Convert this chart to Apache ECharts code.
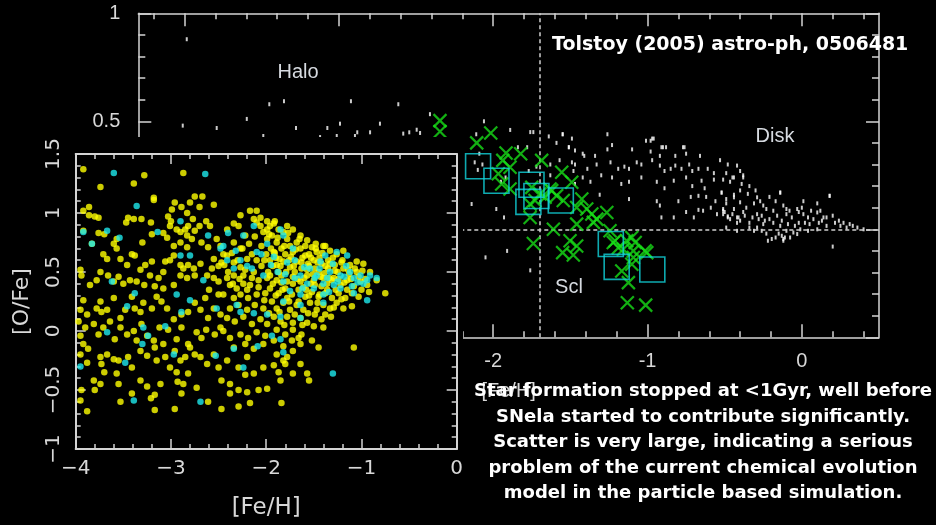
<!DOCTYPE html>
<html>
<head>
<meta charset="utf-8">
<script src="https://cdn.jsdelivr.net/npm/echarts@6/dist/echarts.min.js"></script>
<style>
html,body{margin:0;padding:0;background:#000;}
#chart{width:936px;height:525px;}
</style>
</head>
<body>
<div id="chart"></div>
<script>
// ---- Observed stars: Milky Way halo + disk field stars, [Fe/H] vs [O/Fe] ----
const milkyWayStars = [
  [-3.986,0.88],[-3.451,0.579],[-3.356,0.593],[-2.922,0.593],[-2.615,0.579],[-3.597,0.511],
  [-4.012,0.48],[-3.792,0.469],[-3.278,0.469],[-3.075,0.469],[-2.993,0.489],[-2.734,0.489],
  [-3.49,0.432],[-3.014,0.432],[-2.896,0.432],[-2.881,0.449],[-2.798,0.449],[-2.583,0.443],
  [-2.544,0.449],[-2.496,0.461],[-2.474,0.446],[-2.41,0.533],[-3.122,0.427],
  [-2.06,0.50],[-1.89,0.46],[-2.11,0.44],[-1.76,0.45],[-1.74,0.45],[-1.64,0.43],[-1.55,0.44],
  [-1.59,0.40],[-1.51,0.38],[-1.78,0.38],[-1.84,0.38],[-2.09,0.35],[-2.12,0.31],[-2.07,0.30],
  [-2.10,0.275],[-1.77,0.27],[-1.72,0.29],[-1.63,0.30],[-1.57,0.32],[-1.92,0.24],[-1.95,0.22],
  [-1.63,0.25],[-2.14,0.117],[-1.98,0.094],[-1.48,0.27],[-1.42,0.35],[-2.05,-0.13],[-1.91,-0.10],
  [-1.76,-0.19],[-1.93,0.055],[-1.26,0.44],[-0.96,0.42],
  [-1.55,0.44],[-1.49,0.42],[-1.51,0.38],[-1.47,0.365],[-1.41,0.34],[-1.34,0.34],[-1.26,0.37],
  [-1.23,0.39],[-1.10,0.37],[-1.01,0.41],[-0.97,0.42],[-0.91,0.38],[-0.88,0.38],[-0.76,0.38],
  [-0.98,0.36],[-0.92,0.34],[-0.82,0.34],[-0.75,0.35],[-0.66,0.34],[-1.49,0.31],[-1.47,0.30],
  [-1.39,0.28],[-1.33,0.30],[-1.24,0.31],[-1.19,0.28],[-1.15,0.29],[-1.12,0.28],[-1.07,0.31],
  [-1.04,0.30],[-0.97,0.32],[-0.92,0.295],[-0.89,0.27],[-0.85,0.28],[-0.82,0.295],[-0.78,0.28],
  [-0.73,0.30],[-0.71,0.27],[-0.67,0.28],[-0.61,0.28],[-0.57,0.26],[-0.53,0.32],[-0.48,0.30],
  [-0.45,0.24],[-1.42,0.24],[-1.37,0.22],[-1.30,0.25],[-1.23,0.24],[-1.17,0.21],[-1.12,0.22],
  [-1.04,0.24],[-0.94,0.22],[-0.89,0.19],[-0.83,0.225],[-0.75,0.24],[-0.71,0.20],[-0.65,0.225],
  [-0.63,0.19],[-0.57,0.23],[-0.51,0.23],[-0.465,0.22],[-1.31,0.16],[-1.12,0.14],[-0.94,0.13],
  [-0.92,0.11],[-0.80,0.13],[-0.72,0.15],[-0.67,0.155],[-0.62,0.15],[-0.56,0.13],[-0.52,0.17],
  [-0.49,0.14],[-0.44,0.16],[-0.67,0.09],[-0.64,0.086],[-0.59,0.10],[-0.55,0.07],[-0.51,0.086],
  [-0.48,0.055],[-0.42,0.055],[-0.75,0.08],[-0.83,0.055],[-0.91,0.055],[-0.70,0.055],[-1.47,0.21],
  [-0.42,0.295],[-0.40,0.27],[-0.49,0.26],[-0.44,0.24],[-0.38,0.25],[-0.52,0.17],[-0.39,0.21],
  [-0.34,0.20],[-0.30,0.18],[-0.49,0.12],[-0.44,0.094],[-0.40,0.125],[-0.38,0.08],[-0.36,0.10],
  [-0.31,0.12],[-0.29,0.07],[-0.27,0.13],[-0.23,0.094],[-0.21,0.15],[-0.17,0.13],[-0.14,0.17],
  [-0.12,0.11],[-0.10,0.07],[-0.08,0.086],[-0.03,0.094],[0.01,0.07],[0.0,0.10],[0.04,0.055],
  [0.10,0.12],[0.12,0.086],[0.14,0.055],[0.18,0.155],[0.20,0.063],[0.24,0.04],[0.27,0.03],
  [0.31,0.024],[0.36,0.008],[0.40,0.0],[-0.49,0.008],[-0.42,-0.007],[-0.31,-0.007],[-0.23,-0.02],
  [-0.195,-0.045],[-0.15,-0.02],[-0.11,-0.038],[-0.055,-0.015],[-0.01,0.0],[0.04,-0.007],[0.10,0.0],
  [-0.22,-0.053],[-0.12,-0.053],[0.20,-0.08],[-0.51,0.07],[-0.465,0.047],[-0.40,0.04],[-0.34,0.03],
  [-0.28,0.047],[-0.25,0.024],[-0.185,0.03],[-0.14,0.016],[-0.09,0.024],[-0.02,0.03],[0.05,0.024],
  [0.11,0.03],[0.16,0.016],[0.01,0.13],[-0.02,0.08],[0.06,0.086],
  [-0.50,0.08],[-0.48,0.06],[-0.45,0.07],[-0.41,0.055],[-0.37,0.063],[-0.32,0.055],[-0.26,0.063],
  [-0.24,0.04],[-0.21,0.047],[-0.16,0.063],[-0.13,0.04],[-0.065,0.055],[-0.045,0.016],[0.02,0.03],
  [0.075,0.047],[0.13,0.04],[0.16,0.055],[0.215,0.03],[0.25,0.016],[0.29,0.008],[0.33,0.016],
  [-0.29,0.008],[-0.26,-0.007],[-0.10,-0.007],[-0.13,-0.03],[-0.076,-0.038],[-0.03,-0.022],
  [-0.40,0.18],[-0.44,0.148],[-0.35,0.164],[-0.29,0.148],[-0.25,0.11],[-0.185,0.086],[-0.51,0.094],
  [-0.10,0.094],[0.10,0.078],[-0.42,0.03],[-0.34,0.008],[-0.17,-0.038],[-0.12,-0.045],
  [-0.98,0.41],[-0.90,0.38],[-0.77,0.38],[-0.38,0.24],[-0.14,0.17],[0.18,0.155]
];

// ---- Observed stars: Sculptor dwarf spheroidal ----
const sculptorStars = [
  [-2.345,0.503],[-2.345,0.453],[-2.016,0.446],[-2.107,0.40],[-1.917,0.353],[-1.822,0.35],
  [-1.938,0.319],[-1.686,0.319],[-1.891,0.287],[-1.967,0.257],[-1.556,0.264],[-1.491,0.218],
  [-1.945,0.21],[-1.891,0.187],[-1.75,0.194],[-1.621,0.179],[-1.697,0.164],[-1.546,0.133],
  [-1.426,0.14],[-1.459,0.101],[-1.761,0.117],[-1.761,0.055],[-1.459,0.024],[-1.61,0.0],
  [-1.74,-0.066],[-1.502,-0.053],[-1.459,-0.077],[-1.55,-0.108],[-1.481,-0.119],[-1.394,0.094],
  [-1.361,0.071],[-1.329,0.047],[-1.264,0.078],[-1.243,-0.007],[-1.211,-0.053],[-1.157,-0.092],
  [-1.102,-0.038],[-1.092,-0.1],[-1.102,-0.162],[-1.167,-0.193],[-1.124,-0.247],[-1.005,-0.108],
  [-1.131,-0.34],[-1.012,-0.351],[-1.08,-0.061],[-1.092,-0.131],[-1.016,-0.1],[-1.351,0.032],
  [-1.222,-0.061],[-1.135,-0.053],[-1.189,-0.085],[-1.632,0.187],[-1.589,0.156],[-1.729,0.133],
  [-1.664,0.148]
];

// ---- Sculptor binned means ----
const sculptorBins = [
  [-2.098,0.292],[-1.979,0.225],[-1.752,0.206],[-1.72,0.154],[-1.772,0.127],
  [-1.562,0.133],[-1.238,-0.068],[-1.2,-0.174],[-0.969,-0.186]
];

// Reference lines of the observed panel
const sclMeanFeH = -1.7;
const solarOFe = 0;

// ---- Simulated star particles (inset) ----
const simStarsMain = [
  [-3.92,1.37],[-3.28,1.32],[-2.87,1.34],[-3.39,1.25],[-3.74,1.22],[-3.18,1.13],[-3.18,1.11],
  [-2.96,1.09],[-2.89,1.05],[-2.80,1.09],[-2.75,1.14],[-2.67,1.14],[-2.55,1.07],[-2.70,1.05],
  [-2.99,1.03],[-2.83,1.00],[-3.92,1.02],[-3.86,1.05],[-3.86,0.98],[-3.80,0.97],[-3.76,0.96],
  [-3.45,0.96],[-3.39,0.95],[-3.31,0.95],[-3.47,0.92],[-3.21,0.92],[-3.03,0.97],[-3.00,0.93],
  [-2.77,0.95],[-2.63,0.93],[-2.59,0.89],[-2.70,0.89],[-3.92,0.85],[-3.76,0.83],[-3.70,0.82],
  [-3.83,0.74],[-3.57,0.78],[-3.60,0.74],[-3.57,0.70],[-3.30,0.75],[-3.20,0.82],[-3.08,0.83],
  [-3.01,0.89],[-2.94,0.86],[-2.90,0.84],[-2.85,0.86],[-2.83,0.81],[-2.78,0.78],[-2.82,0.89],
  [-2.75,0.85],[-3.04,0.79],[-2.97,0.72],[-2.90,0.75],[-2.83,0.71],[-2.97,0.64],[-2.68,0.75],
  [-2.61,0.71],[-3.71,0.65],[-3.67,0.61],[-3.53,0.61],[-3.41,0.65],[-3.38,0.64],[-3.46,0.56],
  [-3.27,0.56],[-3.20,0.59],[-3.32,0.52],[-3.22,0.47],[-3.13,0.45],[-3.08,0.50],[-3.06,0.59],
  [-3.01,0.60],[-2.90,0.56],[-2.87,0.53],[-2.82,0.56],[-2.76,0.53],[-2.69,0.57],[-2.75,0.47],
  [-2.83,0.45],[-2.90,0.47],[-2.62,0.47],[-2.57,0.53],[-2.50,0.42],[-2.55,0.61],[-3.95,0.52],
  [-3.94,0.47],[-3.85,0.39],[-3.78,0.43],[-3.74,0.50],[-3.66,0.47],[-3.60,0.42],[-3.55,0.46],
  [-3.50,0.40],[-3.43,0.43],[-3.36,0.42],[-3.28,0.39],[-3.17,0.38],[-3.08,0.36],[-2.97,0.39],
  [-3.92,0.26],[-3.95,0.18],[-3.88,0.14],[-3.78,0.19],[-3.74,0.25],[-3.67,0.18],[-3.73,0.16],
  [-3.60,0.28],[-3.53,0.11],[-3.48,0.18],[-3.41,0.29],[-3.38,0.19],[-3.32,0.16],[-3.29,0.24],
  [-3.20,0.19],[-3.15,0.29],[-3.10,0.25],[-3.04,0.19],[-2.97,0.10],[-2.89,0.14],[-2.82,0.16],
  [-2.75,0.24],[-2.69,0.18],[-2.64,0.28],[-2.61,0.11],[-2.55,0.19],[-2.50,0.31],[-2.48,0.14],
  [-3.97,0.08],[-3.90,0.03],[-3.95,-0.04],[-3.81,0.06],[-3.76,-0.03],[-3.71,0.03],[-3.64,0.08],
  [-3.59,-0.07],[-3.53,0.03],[-3.46,-0.03],[-3.39,0.00],[-3.36,-0.08],[-3.31,0.06],[-3.25,-0.04],
  [-3.18,-0.08],[-3.12,0.03],[-3.08,-0.11],[-3.03,0.01],[-2.94,-0.07],[-2.89,0.03],[-2.82,-0.11],
  [-2.73,-0.01],[-2.68,-0.06],[-2.63,0.01],[-2.54,-0.03],[-2.48,0.03],[-3.92,-0.11],[-3.95,-0.20],
  [-3.87,-0.15],[-3.74,-0.22],[-3.67,-0.20],[-3.60,-0.24],[-3.55,-0.25],[-3.73,-0.28],[-3.88,-0.27],
  [-3.70,-0.35],[-3.57,-0.36],[-3.41,-0.31],[-3.45,-0.22],[-3.32,-0.17],[-3.25,-0.21],[-3.17,-0.14],
  [-3.15,-0.25],[-3.06,-0.22],[-3.01,-0.31],[-2.96,-0.17],[-2.90,-0.25],[-2.85,-0.22],[-2.80,-0.14],
  [-2.75,-0.20],[-2.69,-0.22],[-2.62,-0.28],[-2.55,-0.20],[-2.50,-0.31],[-2.94,-0.35],[-2.82,-0.36],
  [-3.80,-0.50],[-3.81,-0.42],[-3.74,-0.45],[-3.94,-0.50],[-3.95,-0.59],[-3.88,-0.68],[-3.55,-0.45],
  [-3.53,-0.60],[-3.41,-0.53],[-3.32,-0.42],[-3.25,-0.47],[-3.21,-0.57],[-3.17,-0.54],[-3.17,-0.67],
  [-3.11,-0.45],[-2.96,-0.66],[-2.93,-0.43],[-2.87,-0.45],[-2.73,-0.48],[-2.61,-0.60],[-2.89,-0.53],
  [-2.52,0.78],[-2.48,0.72],[-2.41,0.86],[-2.34,0.91],[-2.29,0.89],[-2.22,0.81],[-2.17,1.02],
  [-2.10,1.02],[-2.13,0.95],[-2.34,0.75],[-2.27,0.70],[-2.41,0.64],[-2.47,0.58],[-2.34,0.58],
  [-2.27,0.54],[-2.20,0.61],[-2.15,0.65],[-2.06,0.89],[-2.03,0.84],[-1.99,0.78],[-1.96,0.89],
  [-2.41,0.45],[-2.34,0.47],[-2.24,0.47],[-2.13,0.50],[-2.38,0.39],[-2.31,0.36],[-2.24,0.40],
  [-2.17,0.39],[-2.08,0.43],[-1.99,0.45],[-2.45,0.31],[-2.34,0.28],[-2.27,0.31],[-2.19,0.28],
  [-2.10,0.31],[-2.01,0.32],[-2.38,0.19],[-2.29,0.22],[-2.20,0.18],[-2.12,0.22],[-2.03,0.19],
  [-2.41,0.11],[-2.33,0.08],[-2.24,0.12],[-2.15,0.06],[-2.06,0.10],[-1.99,0.06],[-2.45,0.00],
  [-2.38,-0.06],[-2.27,-0.03],[-2.19,-0.06],[-2.10,-0.01],[-2.01,-0.04],[-2.34,-0.14],[-2.22,-0.11],
  [-2.13,-0.15],[-2.03,-0.11],[-2.41,-0.25],[-2.29,-0.31],[-2.20,-0.22],[-2.13,-0.36],[-2.03,-0.31],
  [-2.22,-0.37],[-2.47,-0.42],[-2.38,-0.45],[-2.38,-0.53],[-2.29,-0.50],[-2.20,-0.52],[-2.47,-0.66],
  [-2.29,-0.64],[-2.17,-0.61],[-2.08,-0.50],[-1.99,-0.49],
  [-2.06,0.96],[-1.99,0.93],[-1.92,0.91],[-1.87,0.86],[-1.82,0.84],[-1.94,0.81],[-1.89,0.75],
  [-1.78,0.78],[-1.75,0.72],[-1.84,0.70],[-1.92,0.67],[-1.72,0.67],[-1.64,0.70],[-1.59,0.64],
  [-1.52,0.71],[-1.47,0.67],[-1.40,0.72],[-1.33,0.68],[-1.26,0.65],[-1.19,0.68],[-1.96,0.60],
  [-1.89,0.56],[-1.82,0.59],[-1.75,0.54],[-1.68,0.59],[-1.63,0.53],[-1.56,0.57],[-1.49,0.53],
  [-1.42,0.57],[-1.35,0.53],[-1.28,0.56],[-1.19,0.53],[-1.12,0.56],[-1.05,0.59],[-0.98,0.57],
  [-0.91,0.50],[-0.84,0.43],[-0.75,0.32],[-1.96,0.47],[-1.89,0.43],[-1.84,0.47],[-1.78,0.42],
  [-1.72,0.46],[-1.64,0.42],[-1.57,0.47],[-1.50,0.43],[-1.43,0.46],[-1.36,0.40],[-1.29,0.45],
  [-1.22,0.39],[-1.15,0.43],[-1.08,0.38],[-1.01,0.42],[-0.94,0.39],[-0.92,0.33],[-1.96,0.36],
  [-1.87,0.32],[-1.80,0.36],[-1.73,0.31],[-1.66,0.35],[-1.59,0.29],[-1.52,0.33],[-1.45,0.29],
  [-1.38,0.32],[-1.31,0.28],[-1.24,0.32],[-1.17,0.28],[-1.10,0.32],[-1.03,0.29],[-1.19,0.19],
  [-1.10,0.21],[-1.94,0.25],[-1.89,0.19],[-1.82,0.24],[-1.75,0.18],[-1.68,0.22],[-1.61,0.18],
  [-1.54,0.24],[-1.47,0.18],[-1.40,0.22],[-1.33,0.19],[-1.26,0.24],[-1.92,0.12],[-1.85,0.08],
  [-1.78,0.12],[-1.72,0.07],[-1.64,0.11],[-1.57,0.07],[-1.49,0.14],[-1.42,0.10],[-1.32,0.12],
  [-1.89,0.01],[-1.80,-0.03],[-1.72,0.01],[-1.63,-0.03],[-1.50,0.04],[-1.40,0.03],[-1.92,-0.08],
  [-1.82,-0.13],[-1.73,-0.08],[-1.66,-0.06],[-1.89,-0.20],[-1.78,-0.22],[-1.72,-0.17],[-1.64,-0.11],
  [-1.52,-0.08],[-1.45,-0.14],[-1.92,-0.29],[-1.82,-0.25],[-1.87,-0.35],[-1.80,-0.28],[-1.72,-0.36],
  [-1.64,-0.28],[-1.57,-0.36],[-1.55,-0.42],[-1.85,-0.42],[-1.84,-0.61],[-1.08,-0.14],
  [-2.27,0.98],[-2.10,0.92],[-1.99,0.86],[-1.91,0.93],[-1.78,0.89],[-1.72,0.86],[-1.64,0.81],
  [-1.57,0.77],[-1.48,0.74],[-1.38,0.72],
  [-1.95,0.70],[-1.90,0.62],[-1.85,0.55],[-1.80,0.65],[-1.76,0.60],[-1.70,0.50],[-1.68,0.75],
  [-1.62,0.62],[-1.60,0.45],[-1.55,0.65],[-1.53,0.40],[-1.50,0.60],[-1.45,0.50],[-1.42,0.38],
  [-1.38,0.55],[-1.34,0.45],[-1.30,0.62],[-1.27,0.35],[-1.25,0.50],[-1.20,0.60],[-2.05,0.55],
  [-2.10,0.60],[-2.00,0.65],[-1.98,0.50],[-1.93,0.40],[-1.87,0.50],[-1.83,0.35],[-1.78,0.28],
  [-1.72,0.40],[-1.66,0.25],[-1.58,0.35],[-1.55,0.55],[-1.48,0.70],[-1.44,0.62],[-1.40,0.45],
  [-1.35,0.60],[-1.15,0.35],[-1.13,0.48],[-1.05,0.50],[-1.00,0.35],[-2.15,0.45],[-2.20,0.35],
  [-2.25,0.70],[-2.30,0.60],[-2.35,0.40],[-2.40,0.50],[-2.45,0.65],[-2.50,0.55],[-2.55,0.45],
  [-2.60,0.35],
  [-2.18,0.74],[-2.12,0.80],[-2.05,0.72],[-2.02,0.60],[-1.97,0.82],[-1.93,0.55],[-1.91,0.66],
  [-1.88,0.79],[-1.86,0.61],[-1.84,0.41],[-1.81,0.72],[-1.79,0.50],[-1.77,0.83],[-1.74,0.63],
  [-1.71,0.55],[-1.69,0.69],[-1.67,0.44],[-1.65,0.78],[-1.63,0.58],[-1.61,0.37],[-1.59,0.72],
  [-1.57,0.52],[-1.55,0.30],[-1.53,0.62],[-1.51,0.48],[-1.49,0.39],[-1.46,0.58],[-1.44,0.31],
  [-1.41,0.66],[-1.39,0.49],[-1.36,0.35],[-1.33,0.57],[-1.31,0.43],[-1.28,0.51],[-1.24,0.44],
  [-1.21,0.58],[-1.18,0.41],[-1.14,0.52],[-1.11,0.44],[-1.07,0.53],[-1.03,0.46],[-0.99,0.51],
  [-0.96,0.44],[-2.08,0.37],[-2.02,0.26],[-1.97,0.15],[-1.90,0.30],[-1.86,0.16],[-1.81,0.05],
  [-1.76,0.25],[-1.70,0.14],[-1.62,0.05],[-1.56,0.15],[-1.46,0.24],[-1.38,0.14],[-1.29,0.20],
  [-1.21,0.27],[-2.22,0.52],[-2.28,0.44],[-2.36,0.66],[-2.44,0.56]
];

const simStarsSub = [
  [-3.60,1.34],[-2.64,1.33],[-3.36,1.06],[-3.92,0.84],[-3.83,0.74],[-3.67,0.85],[-3.54,0.79],
  [-2.90,0.93],[-3.14,0.84],[-2.61,0.81],[-3.62,0.42],[-3.38,0.32],[-3.46,0.21],[-3.29,0.03],
  [-3.24,-0.04],[-3.67,-0.01],[-3.30,-0.11],[-3.06,0.04],[-2.94,0.31],[-2.97,-0.20],[-2.80,0.26],
  [-2.66,0.43],[-2.89,0.16],[-3.48,-0.27],[-3.95,-0.30],[-3.39,-0.59],[-2.69,-0.60],[-2.53,-0.21],
  [-2.34,-0.15],[-2.24,-0.31],[-2.09,-0.13],[-1.85,-0.07],[-1.82,-0.18],[-1.30,-0.36],[-2.90,0.64],
  [-2.80,0.64],[-2.45,0.72],[-2.40,0.83],[-2.24,0.81],[-2.13,0.89],[-1.85,0.86],[-1.82,0.81],
  [-1.72,0.70],[-1.99,0.74],[-2.10,0.67],[-2.27,0.60],[-2.41,0.60],[-2.34,0.53],[-2.15,0.53],
  [-2.03,0.47],[-1.82,0.42],[-1.64,0.47],[-1.54,0.53],[-1.43,0.59],[-1.38,0.64],[-1.26,0.67],
  [-1.15,0.64],[-1.47,0.47],[-1.36,0.45],[-1.29,0.39],[-1.22,0.47],[-1.12,0.50],[-1.08,0.45],
  [-1.01,0.47],[-0.94,0.43],[-0.91,0.47],[-0.84,0.45],[-0.94,0.26],[-1.08,0.32],[-1.22,0.36],
  [-1.40,0.31],[-1.50,0.36],[-1.64,0.31],[-1.75,0.34],[-1.82,0.25],[-1.64,0.22],[-1.40,0.24],
  [-2.31,0.22],[-2.27,0.16],[-2.13,0.15],[-1.99,0.14],[-1.85,0.12],[-1.64,0.11],[-2.52,0.19],
  [-2.48,0.70],[-1.94,-0.04],
  [-1.95,0.56],[-1.88,0.50],[-1.78,0.58],[-1.70,0.45],[-1.60,0.54],[-1.57,0.40],[-1.49,0.45],
  [-1.44,0.53],[-1.40,0.40],[-1.33,0.50],[-1.30,0.57],[-1.25,0.42],[-1.18,0.46],[-1.16,0.55],
  [-1.10,0.38],[-1.04,0.41],[-0.98,0.40],[-1.70,0.60],[-1.80,0.48],[-1.92,0.63],[-2.05,0.65],
  [-2.20,0.55],[-2.32,0.68],[-1.62,0.36],[-1.34,0.33]
];

// ---- Tick positions ----
const obsFeHMajor = [-4, -3, -2, -1, 0];
const obsFeHLabels = [-2, -1, 0];
const obsFeHMinor = [-4.2,-3.8,-3.6,-3.4,-3.2,-2.8,-2.6,-2.4,-2.2,-1.8,-1.6,-1.4,-1.2,-0.8,-0.6,-0.4,-0.2,0.2,0.4];
const obsOFeMajor = [-0.5, 0, 0.5, 1];
const obsOFeLabels = [0.5, 1];
const obsOFeMinor = [-0.4,-0.3,-0.2,-0.1,0.1,0.2,0.3,0.4,0.6,0.7,0.8,0.9];

const AX = '#d4d4d4';
const LBL = '#d8d8d8';
const minusFmt = v => (v < 0 ? '\u2212' : '') + Math.abs(v);

// Observed-panel axes (one axis for long ticks, one for short ticks on every side)
function obsX(pos, major, labelled) {
  return {
    gridIndex: 0, type: 'value', position: pos, min: -4.3, max: 0.5,
    axisLine: { show: major, onZero: false, lineStyle: { color: AX, width: 1.5 } },
    axisTick: { show: true, inside: true, length: major ? 13 : 6,
      customValues: major ? obsFeHMajor : obsFeHMinor, lineStyle: { color: AX, width: 1.5 } },
    axisLabel: { show: labelled, customValues: obsFeHLabels, color: LBL, fontSize: 20,
      fontFamily: 'Liberation Sans', margin: 14 },
    splitLine: { show: false },
    name: labelled ? '[Fe/H]' : '', nameLocation: 'middle', nameGap: 44,
    nameTextStyle: { color: LBL, fontSize: 20, fontFamily: 'Liberation Sans' }
  };
}
function obsY(pos, major, labelled) {
  return {
    gridIndex: 0, type: 'value', position: pos, min: -0.5, max: 1.0,
    axisLine: { show: major, onZero: false, lineStyle: { color: AX, width: 1.5 } },
    axisTick: { show: true, inside: true, length: major ? 13 : 7,
      customValues: major ? obsOFeMajor : obsOFeMinor, lineStyle: { color: AX, width: 1.5 } },
    axisLabel: { show: labelled, customValues: obsOFeLabels, color: LBL, fontSize: 20,
      fontFamily: 'Liberation Sans', margin: 18 },
    splitLine: { show: false }
  };
}
// Simulation inset axes
function simX(pos, labelled) {
  return {
    gridIndex: 1, type: 'value', position: pos, min: -4, max: 0, interval: 1, z: 7,
    axisLine: { onZero: false, lineStyle: { color: AX, width: 2 } },
    axisTick: { inside: true, length: 10, lineStyle: { color: AX, width: 1.5 } },
    minorTick: { show: true, splitNumber: 5, length: 5, lineStyle: { color: AX, width: 1.5 } },
    axisLabel: { show: labelled, color: LBL, fontSize: 20, fontFamily: 'DejaVu Sans',
      margin: 10, formatter: minusFmt },
    splitLine: { show: false },
    name: labelled ? '[Fe/H]' : '', nameLocation: 'middle', nameGap: 48,
    nameTextStyle: { color: LBL, fontSize: 23, fontFamily: 'DejaVu Sans' }
  };
}
function simY(pos, labelled) {
  return {
    gridIndex: 1, type: 'value', position: pos, min: -1, max: 1.5, interval: 0.5, z: 7,
    axisLine: { onZero: false, lineStyle: { color: AX, width: 2 } },
    axisTick: { inside: true, length: 10, lineStyle: { color: AX, width: 1.5 } },
    minorTick: { show: true, splitNumber: 5, length: 5, lineStyle: { color: AX, width: 1.5 } },
    axisLabel: { show: labelled, color: LBL, fontSize: 20, fontFamily: 'DejaVu Sans',
      margin: 12, rotate: 90, formatter: minusFmt },
    splitLine: { show: false },
    name: labelled ? '[O/Fe]' : '', nameLocation: 'middle', nameGap: 42, nameRotate: 90,
    nameTextStyle: { color: LBL, fontSize: 22, fontFamily: 'DejaVu Sans' }
  };
}

const chart = echarts.init(document.getElementById('chart'), null, { renderer: 'canvas' });
chart.setOption({
  backgroundColor: '#000',
  animation: false,
  grid: [
    { left: 138.3, top: 13.3, width: 740.7, height: 324 },
    { left: 75.7, top: 154, width: 381, height: 298.7, z: 6 }
  ],
  xAxis: [
    obsX('bottom', true, true), obsX('bottom', false, false),
    obsX('top', true, false), obsX('top', false, false),
    simX('bottom', true), simX('top', false)
  ],
  yAxis: [
    obsY('left', true, true), obsY('left', false, false),
    obsY('right', true, false), obsY('right', false, false),
    simY('left', true), simY('right', false)
  ],
  series: [
    {
      type: 'scatter', xAxisIndex: 0, yAxisIndex: 0, data: milkyWayStars,
      symbol: 'rect', symbolSize: [2, 4], itemStyle: { color: '#ffffff' }, z: 2,
      markLine: {
        silent: true, symbol: 'none', z: 3, label: { show: false },
        lineStyle: { color: '#cfcfcf', type: [4, 3], width: 1.5 },
        data: [{ xAxis: sclMeanFeH }, { yAxis: solarOFe }]
      }
    },
    {
      type: 'scatter', xAxisIndex: 0, yAxisIndex: 0, data: sculptorStars,
      symbol: 'path://M0,0L10,10M10,0L0,10', symbolSize: 13, z: 3,
      itemStyle: { color: 'transparent', borderColor: '#18dc18', borderWidth: 2.2 }
    },
    {
      type: 'scatter', xAxisIndex: 0, yAxisIndex: 0, data: sculptorBins,
      symbol: 'rect', symbolSize: 25, z: 4,
      itemStyle: { color: 'transparent', borderColor: '#12d4dc', borderWidth: 1.6 }
    },
    {
      type: 'scatter', xAxisIndex: 4, yAxisIndex: 4, data: simStarsMain,
      symbol: 'circle', symbolSize: 6.5, itemStyle: { color: '#ffff00' }, z: 8
    },
    {
      type: 'scatter', xAxisIndex: 4, yAxisIndex: 4, data: simStarsSub,
      symbol: 'circle', symbolSize: 6.5, itemStyle: { color: '#1ee8ec' }, z: 9
    }
  ],
  graphic: [
    // black backdrop for the inset panel
    { type: 'rect', z: 5, silent: true, shape: { x: 0, y: 137, width: 463, height: 388 },
      style: { fill: '#000' } },
    { type: 'text', z: 10, x: 298, y: 72, style: { text: 'Halo', fill: '#d6dae0',
      font: '20px "Liberation Sans"', align: 'center', verticalAlign: 'middle' } },
    { type: 'text', z: 10, x: 775, y: 136, style: { text: 'Disk', fill: '#d6dae0',
      font: '20px "Liberation Sans"', align: 'center', verticalAlign: 'middle' } },
    { type: 'text', z: 10, x: 569, y: 287, style: { text: 'Scl', fill: '#d6dae0',
      font: '20px "Liberation Sans"', align: 'center', verticalAlign: 'middle' } },
    { type: 'text', z: 10, x: 552, y: 45, style: { text: 'Tolstoy (2005) astro-ph, 0506481',
      fill: '#ffffff', font: 'bold 19px "DejaVu Sans"', align: 'left', verticalAlign: 'middle' } },
    { type: 'text', z: 11, x: 703, y: 379, style: {
      text: 'Star formation stopped at <1Gyr, well before\nSNela started to contribute significantly.\nScatter is very large, indicating a serious\nproblem of the current chemical evolution\nmodel in the particle based simulation.',
      fill: '#ffffff', font: 'bold 18px "DejaVu Sans"', lineHeight: 25.5,
      align: 'center', verticalAlign: 'top' } }
  ]
});
</script>
</body>
</html>
